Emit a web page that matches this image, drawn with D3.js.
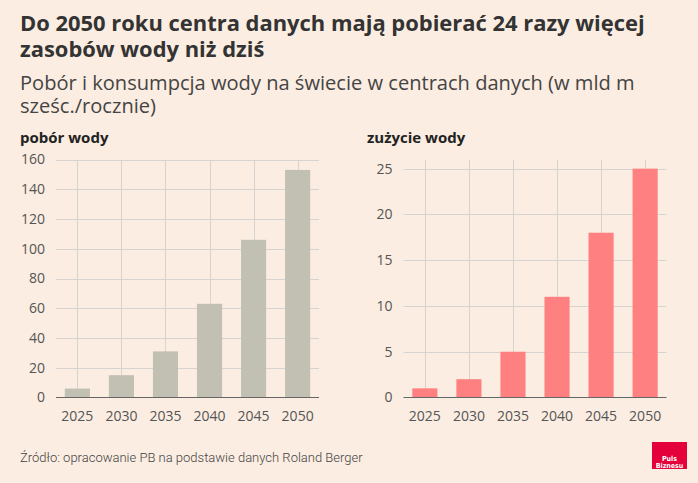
<!DOCTYPE html>
<html>
<head>
<meta charset="utf-8">
<script src="https://cdn.jsdelivr.net/npm/d3@7"></script>
<style>
  body { margin: 0; background: #fbede1; }
  svg { display: block; }
</style>
</head>
<body>
<svg id="chart"></svg>
<script>
const width = 698, height = 483;

// dane (mld m sześc./rocznie)
const years = ["2025", "2030", "2035", "2040", "2045", "2050"];
const pobor = [6, 15, 31, 63, 106, 153];
const zuzycie = [1, 2, 5, 11, 18, 25];
const poborTicks = [0, 20, 40, 60, 80, 100, 120, 140, 160];
const zuzycieTicks = [0, 5, 10, 15, 20, 25];

const svg = d3.select("#chart")
    .attr("width", width)
    .attr("height", height);

svg.append("rect")
    .attr("width", width).attr("height", height)
    .attr("fill", "#fbede1");

// dopasowanie szerokości pierwszej linii do oryginału
function fitWidth(sel, first, target) {
    const w = first.node().getComputedTextLength();
    const fs = +sel.attr("font-size");
    sel.attr("font-size", fs * target / w);
}

// nagłówek
const title = svg.append("text")
    .attr("font-family", "'Open Sans', sans-serif")
    .attr("font-weight", 700)
    .attr("font-size", 21.5)
    .attr("fill", "#333");
const t1 = title.append("tspan").attr("x", 20).attr("y", 31)
    .text("Do 2050 roku centra danych mają pobierać 24 razy więcej");
title.append("tspan").attr("x", 20).attr("y", 57)
    .text("zasobów wody niż dziś");
fitWidth(title, t1, 625);

const sub = svg.append("text")
    .attr("font-family", "'Open Sans', sans-serif")
    .attr("font-weight", 400)
    .attr("font-size", 19.5)
    .attr("fill", "#444");
const s1 = sub.append("tspan").attr("x", 20).attr("y", 90)
    .text("Pobór i konsumpcja wody na świecie w centrach danych (w mld m");
sub.append("tspan").attr("x", 20).attr("y", 113)
    .text("sześc./rocznie)");
fitWidth(sub, s1, 615);

// pojedynczy wykres słupkowy
function drawPanel(opts) {
    const g = svg.append("g");

    const x = d3.scaleBand()
        .domain(years)
        .range(opts.xRange)
        .paddingInner(0.43)
        .paddingOuter(0.2);

    const y = d3.scaleLinear()
        .domain([0, opts.max])
        .range([397.5, 159.5]);

    g.append("text")
        .attr("x", opts.titleX).attr("y", 143)
        .attr("font-family", "'Open Sans', sans-serif")
        .attr("font-weight", 700)
        .attr("font-size", 15)
        .attr("fill", "#222")
        .text(opts.title);

    // siatka pozioma
    g.selectAll(".hgrid")
        .data(opts.ticks.filter(d => d > 0))
        .enter().append("line")
        .attr("x1", opts.xRange[0]).attr("x2", opts.xRange[1])
        .attr("y1", d => Math.round(y(d)) + 0.5)
        .attr("y2", d => Math.round(y(d)) + 0.5)
        .attr("stroke", "#d6d4d1")
        .attr("stroke-width", 1);

    // siatka pionowa
    g.selectAll(".vgrid")
        .data(years)
        .enter().append("line")
        .attr("x1", d => Math.round(x(d) + x.bandwidth() / 2) + 0.5)
        .attr("x2", d => Math.round(x(d) + x.bandwidth() / 2) + 0.5)
        .attr("y1", y.range()[1]).attr("y2", y(0))
        .attr("stroke", "#d6d4d1")
        .attr("stroke-width", 1);

    g.selectAll(".bar")
        .data(opts.values)
        .enter().append("rect")
        .attr("x", (d, i) => x(years[i]))
        .attr("y", d => y(d))
        .attr("width", x.bandwidth())
        .attr("height", d => y(0) - y(d))
        .attr("fill", opts.color);

    // oś X
    g.append("line")
        .attr("x1", opts.xRange[0]).attr("x2", opts.xRange[1])
        .attr("y1", y(0)).attr("y2", y(0))
        .attr("stroke", "#666")
        .attr("stroke-width", 1);

    const xAxis = g.append("g")
        .attr("transform", `translate(0,${y(0)})`)
        .call(d3.axisBottom(x).tickSize(0).tickPadding(14));
    xAxis.select(".domain").remove();

    const yAxis = g.append("g")
        .attr("transform", `translate(${opts.xRange[0]},0)`)
        .call(d3.axisLeft(y).tickValues(opts.ticks).tickSize(0).tickPadding(11));
    yAxis.select(".domain").remove();

    g.selectAll(".tick text")
        .attr("font-family", "'Open Sans', sans-serif")
        .attr("font-size", 14)
        .attr("fill", "#555");
}

drawPanel({
    title: "pobór wody", titleX: 20,
    values: pobor, ticks: poborTicks, max: 160,
    xRange: [56, 319], color: "#c2bfb3"
});

drawPanel({
    title: "zużycie wody", titleX: 367,
    values: zuzycie, ticks: zuzycieTicks, max: 26,
    xRange: [403.5, 666.5], color: "#fe8080"
});

// źródło
svg.append("text")
    .attr("x", 20).attr("y", 462)
    .attr("font-family", "Roboto, sans-serif")
    .attr("font-weight", 300)
    .attr("font-size", 13)
    .attr("fill", "#444")
    .text("Źródło: opracowanie PB na podstawie danych Roland Berger");

// logo
const logo = svg.append("g").attr("transform", "translate(652,442)");
logo.append("rect").attr("width", 35).attr("height", 27).attr("fill", "#e4003a");
logo.append("text")
    .attr("x", 17.5).attr("y", 19)
    .attr("text-anchor", "middle")
    .attr("font-family", "'Liberation Sans Narrow', 'DejaVu Sans Condensed', sans-serif")
    .attr("font-weight", 700).attr("font-size", 7)
    .attr("fill", "#fff").text("Puls");
logo.append("text")
    .attr("x", 17.5).attr("y", 25.5)
    .attr("text-anchor", "middle")
    .attr("font-family", "'Liberation Sans Narrow', 'DejaVu Sans Condensed', sans-serif")
    .attr("font-weight", 700).attr("font-size", 7)
    .attr("fill", "#fff").text("Biznesu");
</script>
</body>
</html>
